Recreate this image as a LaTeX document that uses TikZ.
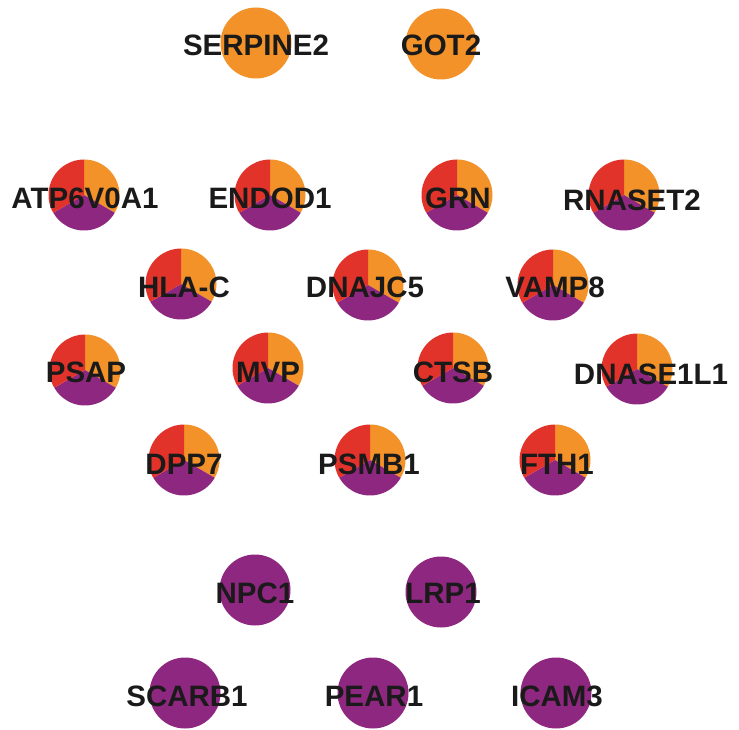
\documentclass[tikz,border=0pt]{standalone}
\usepackage{fontspec}
\setmainfont{Liberation Sans}
\definecolor{segorange}{HTML}{F39229}
\definecolor{segred}{HTML}{E2332B}
\definecolor{segpurple}{HTML}{8E2780}
\definecolor{labelink}{HTML}{1A1A1A}
\tikzset{
  gene/.style={circle, inner sep=0pt, minimum size=71pt},
  solidorange/.style={gene, fill=segorange},
  solidpurple/.style={gene, fill=segpurple},
  genelabel/.style={anchor=base, inner sep=0pt, text=labelink,
    font=\fontsize{29.5}{30}\selectfont\bfseries},
}
% three-segment pie drawn on a named gene node
\newcommand{\genepie}[1]{%
  \fill[segorange] (#1.center) -- ++(90:35.5pt) arc[start angle=90, end angle=-30, radius=35.5pt] -- cycle;
  \fill[segpurple] (#1.center) -- ++(-30:35.5pt) arc[start angle=-30, end angle=-150, radius=35.5pt] -- cycle;
  \fill[segred] (#1.center) -- ++(210:35.5pt) arc[start angle=210, end angle=90, radius=35.5pt] -- cycle;
}
\begin{document}
\begin{tikzpicture}[x=1pt, y=-1pt]
\useasboundingbox (0,0) rectangle (739,730);
\fill[white] (0,0) rectangle (739,730);

% top row: single-colour nodes
\node[solidorange] (serpine2) at (256,43) {};
\node[solidorange] (got2) at (441,44) {};

% pie nodes
\node[gene] (atp6v0a1) at (84,195) {};
\node[gene] (endod1) at (270,195) {};
\node[gene] (grn) at (457,195) {};
\node[gene] (rnaset2) at (624,195) {};
\node[gene] (hlac) at (181,284) {};
\node[gene] (dnajc5) at (368,285) {};
\node[gene] (vamp8) at (553,285) {};
\node[gene] (psap) at (85,370) {};
\node[gene] (mvp) at (268,368) {};
\node[gene] (ctsb) at (453,368) {};
\node[gene] (dnase1l1) at (637,369) {};
\node[gene] (dpp7) at (184,460) {};
\node[gene] (psmb1) at (370,460) {};
\node[gene] (fth1) at (555,460) {};
\foreach \g in {atp6v0a1,endod1,grn,rnaset2,hlac,dnajc5,vamp8,psap,mvp,ctsb,dnase1l1,dpp7,psmb1,fth1}{\genepie{\g}}

% bottom rows: single-colour nodes
\node[solidpurple] (npc1) at (255,590) {};
\node[solidpurple] (lrp1) at (441,592) {};
\node[solidpurple] (scarb1) at (185,693) {};
\node[solidpurple] (pear1) at (373,693) {};
\node[solidpurple] (icam3) at (556,693) {};

% labels
\node[genelabel] (serpine2-l) at (256,56) {SERPINE2};
\node[genelabel] (got2-l) at (441,56) {GOT2};
\node[genelabel] (atp6v0a1-l) at (85,209) {ATP6V0A1};
\node[genelabel] (endod1-l) at (270,209) {ENDOD1};
\node[genelabel] (grn-l) at (458,209) {GRN};
\node[genelabel] (rnaset2-l) at (632,211) {RNASET2};
\node[genelabel] (hlac-l) at (184,297) {HLA-C};
\node[genelabel] (dnajc5-l) at (365,297) {DNAJC5};
\node[genelabel] (vamp8-l) at (555,297) {VAMP8};
\node[genelabel] (psap-l) at (86,382) {PSAP};
\node[genelabel] (mvp-l) at (268,382) {MVP};
\node[genelabel] (ctsb-l) at (453,382) {CTSB};
\node[genelabel] (dnase1l1-l) at (651,384) {DNASE1L1};
\node[genelabel] (dpp7-l) at (184,474) {DPP7};
\node[genelabel] (psmb1-l) at (369,474) {PSMB1};
\node[genelabel] (fth1-l) at (557,474) {FTH1};
\node[genelabel] (npc1-l) at (255,603) {NPC1};
\node[genelabel] (lrp1-l) at (443,603) {LRP1};
\node[genelabel] (scarb1-l) at (187,706) {SCARB1};
\node[genelabel] (pear1-l) at (374,706) {PEAR1};
\node[genelabel] (icam3-l) at (557,706) {ICAM3};
\end{tikzpicture}
\end{document}
